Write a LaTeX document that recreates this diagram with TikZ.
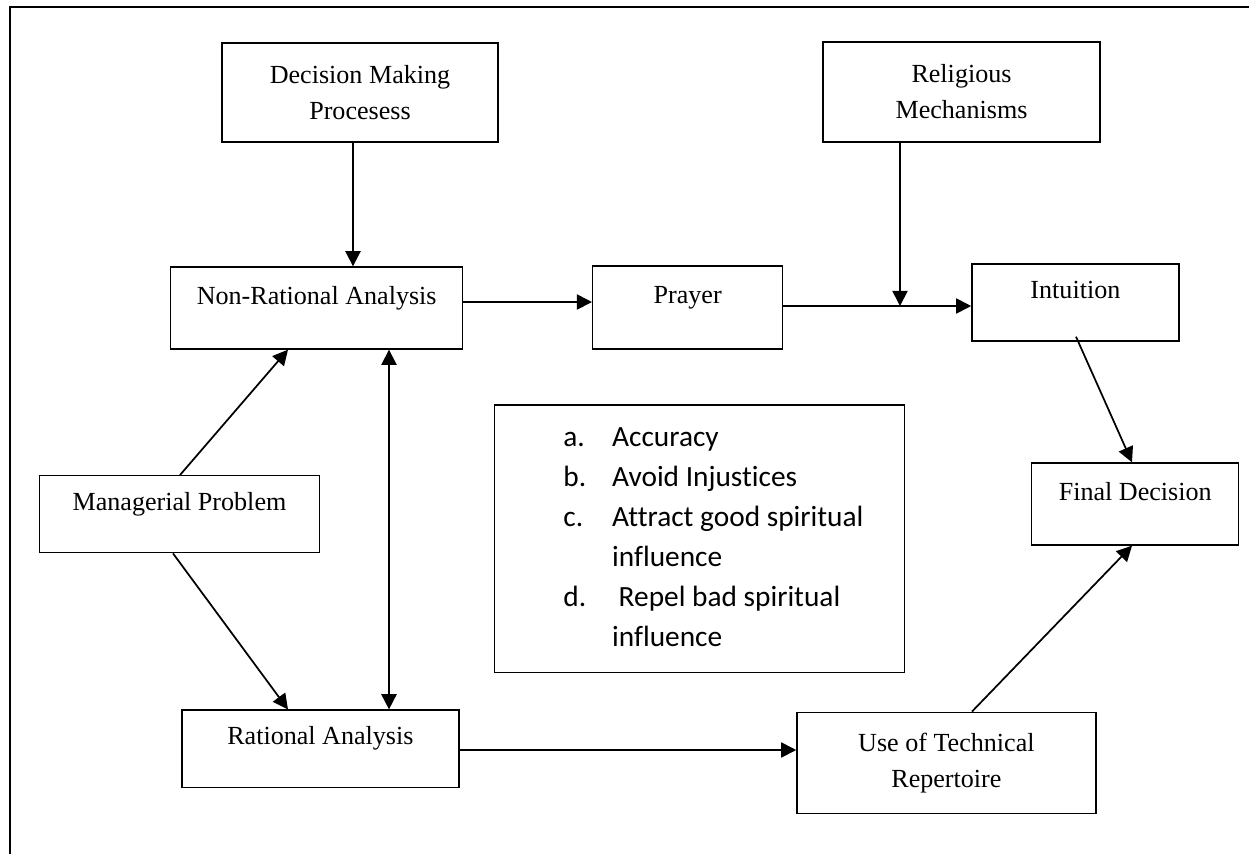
\documentclass[tikz,border=0pt]{standalone}
\usepackage{fontspec}
\setmainfont{Liberation Serif}
\newfontfamily\listfont[Ligatures=NoCommon]{Carlito}
\usetikzlibrary{arrows.meta,calc}

\tikzset{
  box/.style={draw,line width=0.65pt,inner sep=0pt,align=center,
    font=\fontsize{12}{16.6}\selectfont},
  arr/.style={line width=0.8pt,-{Triangle[length=7pt,width=7pt]}},
  dblarr/.style={line width=0.8pt,{Triangle[length=7pt,width=7pt]}-{Triangle[length=7pt,width=7pt]}}
}

\begin{document}
\begin{tikzpicture}[x=0.46pt,y=-0.46pt]
  \useasboundingbox (0,0) rectangle (1249,854);

  % outer frame (open on the right and bottom)
  \draw[line width=0.75pt] (1249,7) -- (10,7) -- (10,854);

  % top row
  \node[box,minimum width=127pt,minimum height=45.5pt] (dmp) at (360,92.5) {Decision Making\\Procesess};
  \node[box,minimum width=127.4pt,minimum height=46pt] (rm) at (961.5,92) {Religious\\Mechanisms};

  % middle row
  \node[box,minimum width=134.3pt,minimum height=37.7pt] (nra) at (316.7,308) {Non-Rational Analysis\\[-4.6pt]~};
  \node[box,minimum width=87.4pt,minimum height=38.2pt] (prayer) at (687.7,307.5) {Prayer\\[-4.6pt]~};
  \node[box,minimum width=95.2pt,minimum height=35.4pt] (intu) at (1075.4,302.5) {Intuition\\[-4.6pt]~};

  \node[box,minimum width=128.6pt,minimum height=35.4pt] (mp) at (179.5,514.2) {Managerial Problem\\[-4.6pt]~};
  \node[box,minimum width=95.2pt,minimum height=37.7pt] (final) at (1135.2,504) {Final Decision\\[-4.6pt]~};

  % list of aims
  \node[draw,line width=0.65pt,inner sep=0pt,minimum width=188.6pt,minimum height=123.1pt] (aims) at (699.3,538.9) {%
    \listfont\fontsize{13.5}{18.4}\selectfont
    \begin{tabular}{@{\hspace{13pt}}p{22.4pt}@{}l@{}}
      a. & Accuracy\\
      b. & Avoid Injustices\\
      c. & Attract good spiritual\\
         & influence\\
      d. & \ Repel bad spiritual\\
         & influence
    \end{tabular}};

  % bottom row
  \node[box,minimum width=127.4pt,minimum height=35.7pt] (ra) at (320.4,748.9) {Rational Analysis\\[-4.6pt]~};
  \node[box,minimum width=137.5pt,minimum height=46.5pt] (utr) at (946.4,762.8) {Use of Technical\\Repertoire};

  % connectors
  \draw[arr] (dmp.south -| 353,0) -- (nra.north -| 353,0);
  \draw[arr] (nra.east |- 0,302) -- (prayer.west |- 0,302);
  \draw[arr] (prayer.east |- 0,306) -- (intu.west |- 0,306);
  \coordinate (join) at (900,306);
  \draw[arr] (rm.south -| join) -- (join);
  \draw[arr] ($(intu.south)+(0.6,-5)$) -- (final.north -| 1132,0);

  \draw[arr] (mp.north -| 180,0) -- (nra.south -| 288,0);
  \draw[arr] (mp.south -| 173,0) -- (ra.north -| 288,0);
  \draw[dblarr] (nra.south -| 389,0) -- (ra.north -| 389,0);

  \draw[arr] (ra.east |- 0,750) -- (utr.west |- 0,750);
  \draw[arr] (utr.north -| 972,0) -- (final.south -| 1132,0);
\end{tikzpicture}
\end{document}
